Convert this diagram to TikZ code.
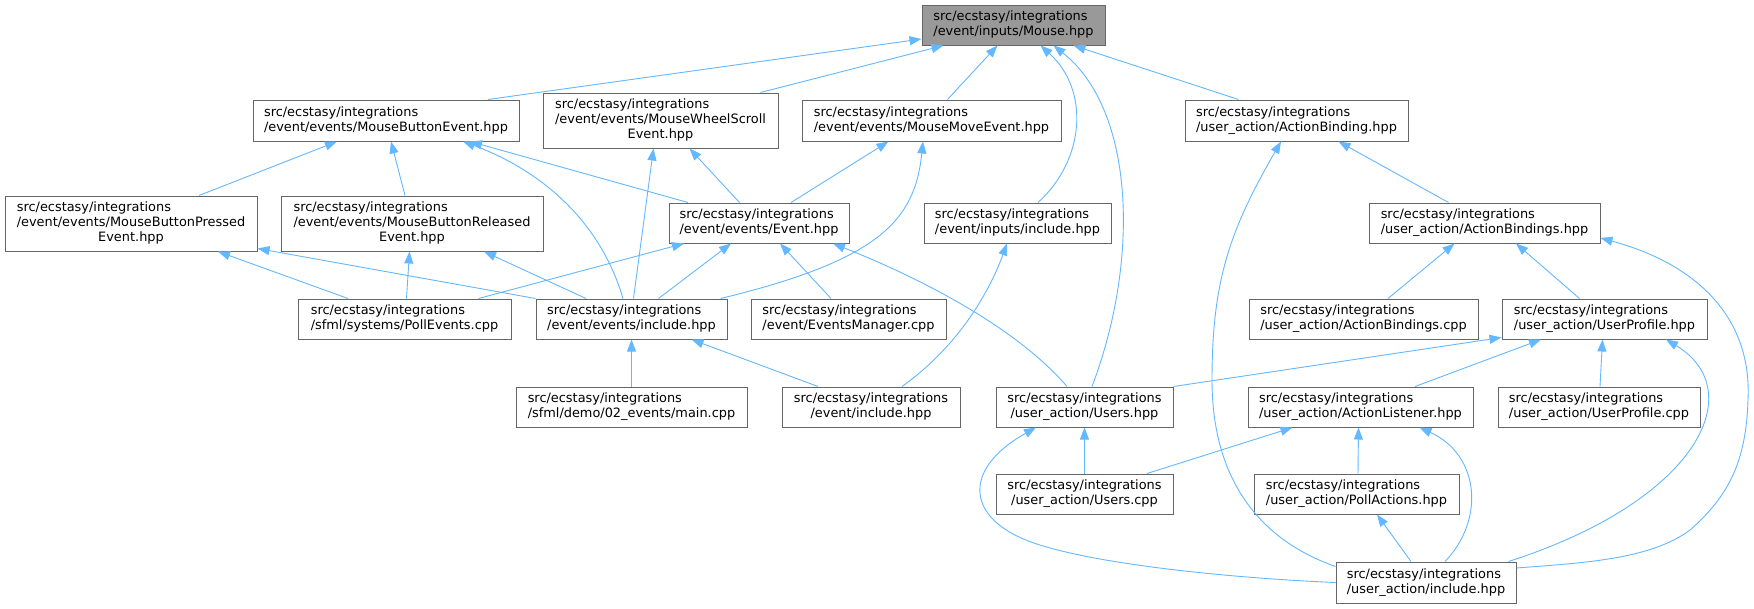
\documentclass[tikz,border=0pt]{standalone}
\usepackage{fontspec}
\setmainfont{DejaVu Sans}
\usepackage{tikz}
\usetikzlibrary{positioning,arrows.meta}

\definecolor{edgeblue}{HTML}{63B8FF}
\definecolor{boxgray}{HTML}{666666}
\definecolor{mainfill}{HTML}{999999}

% file labels: first lines flush left, last line centred
\newcommand{\twoline}[2]{\begin{tabular}{@{}l@{}}#1\\\multicolumn{1}{@{}c@{}}{#2}\end{tabular}}
\newcommand{\threeline}[3]{\begin{tabular}{@{}l@{}}#1\\#2\\\multicolumn{1}{@{}c@{}}{#3}\end{tabular}}

\begin{document}
\begin{tikzpicture}[x=1pt, y=-1pt,
    file/.style={draw=boxgray, line width=1pt, fill=white, inner sep=0pt, font=\fontsize{12.9}{15}\selectfont},
    dep/.style={draw=edgeblue, line width=0.9pt, >={Triangle[length=12pt, width=9pt]}, <-}]

    \useasboundingbox (0,0) rectangle (1754,608);
    \fill[white] (0,0) rectangle (1754,608);

    % Files, row by row
    \node[file, fill=mainfill, minimum width=183pt, minimum height=40pt] (mouse) at (1013.5,25) {\twoline{src/ecstasy/integrations}{/event/inputs/Mouse.hpp}};

    \node[file, minimum width=266pt, minimum height=41pt] (mbe) at (386,120.5) {\twoline{src/ecstasy/integrations}{/event/events/MouseButtonEvent.hpp}};
    \node[file, minimum width=235pt, minimum height=55pt] (mws) at (660.5,120.5) {\threeline{src/ecstasy/integrations}{/event/events/MouseWheelScroll}{Event.hpp}};
    \node[file, minimum width=259pt, minimum height=41pt] (mme) at (931.5,120.5) {\twoline{src/ecstasy/integrations}{/event/events/MouseMoveEvent.hpp}};
    \node[file, minimum width=223pt, minimum height=41pt] (ab) at (1296.5,120.5) {\twoline{src/ecstasy/integrations}{/user\_action/ActionBinding.hpp}};

    \node[file, minimum width=252pt, minimum height=55pt] (mbp) at (131,223.5) {\threeline{src/ecstasy/integrations}{/event/events/MouseButtonPressed}{Event.hpp}};
    \node[file, minimum width=262pt, minimum height=55pt] (mbr) at (412,223.5) {\threeline{src/ecstasy/integrations}{/event/events/MouseButtonReleased}{Event.hpp}};
    \node[file, minimum width=180pt, minimum height=40pt] (ev) at (759,223) {\twoline{src/ecstasy/integrations}{/event/events/Event.hpp}};
    \node[file, minimum width=187pt, minimum height=40pt] (ii) at (1017.5,223) {\twoline{src/ecstasy/integrations}{/event/inputs/include.hpp}};
    \node[file, minimum width=231pt, minimum height=40pt] (abs) at (1484.5,223) {\twoline{src/ecstasy/integrations}{/user\_action/ActionBindings.hpp}};

    \node[file, minimum width=213pt, minimum height=40pt] (pe) at (404.5,319) {\twoline{src/ecstasy/integrations}{/sfml/systems/PollEvents.cpp}};
    \node[file, minimum width=191pt, minimum height=40pt] (ei) at (631.5,319) {\twoline{src/ecstasy/integrations}{/event/events/include.hpp}};
    \node[file, minimum width=195pt, minimum height=40pt] (em) at (848.5,319) {\twoline{src/ecstasy/integrations}{/event/EventsManager.cpp}};
    \node[file, minimum width=229pt, minimum height=40pt] (abcpp) at (1363.5,319) {\twoline{src/ecstasy/integrations}{/user\_action/ActionBindings.cpp}};
    \node[file, minimum width=205pt, minimum height=40pt] (up) at (1604.5,319) {\twoline{src/ecstasy/integrations}{/user\_action/UserProfile.hpp}};

    \node[file, minimum width=231pt, minimum height=40pt] (demo) at (631.5,407) {\twoline{src/ecstasy/integrations}{/sfml/demo/02\_events/main.cpp}};
    \node[file, minimum width=178pt, minimum height=40pt] (evi) at (871,407) {\twoline{src/ecstasy/integrations}{/event/include.hpp}};
    \node[file, minimum width=177pt, minimum height=40pt] (uh) at (1084.5,407) {\twoline{src/ecstasy/integrations}{/user\_action/Users.hpp}};
    \node[file, minimum width=225pt, minimum height=40pt] (al) at (1360.5,407) {\twoline{src/ecstasy/integrations}{/user\_action/ActionListener.hpp}};
    \node[file, minimum width=202pt, minimum height=40pt] (upcpp) at (1599,407) {\twoline{src/ecstasy/integrations}{/user\_action/UserProfile.cpp}};

    \node[file, minimum width=177pt, minimum height=40pt] (uc) at (1084.5,494) {\twoline{src/ecstasy/integrations}{/user\_action/Users.cpp}};
    \node[file, minimum width=205pt, minimum height=40pt] (pa) at (1356.5,494) {\twoline{src/ecstasy/integrations}{/user\_action/PollActions.hpp}};

    \node[file, minimum width=180pt, minimum height=41pt] (ui) at (1426,582.5) {\twoline{src/ecstasy/integrations}{/user\_action/include.hpp}};

    % Included by Mouse.hpp
    \draw[dep] ([yshift=-14pt]mouse.west) -- ([xshift=102pt]mbe.north);
    \draw[dep] ([xshift=-70pt]mouse.south) -- ([xshift=100pt]mws.north);
    \draw[dep] ([xshift=-16pt]mouse.south) -- ([xshift=16pt]mme.north);
    \draw[dep] ([xshift=27pt]mouse.south) .. controls (1090,90) and (1085,160) .. ([xshift=20.5pt]ii.north);
    \draw[dep] ([xshift=40pt]mouse.south) .. controls (1135,110) and (1140,260) .. ([xshift=7.5pt]uh.north);
    \draw[dep] ([xshift=60pt]mouse.south) -- ([xshift=-58pt]ab.north);

    % Event headers
    \draw[dep] ([xshift=-49pt]mbe.south) -- ([xshift=68pt]mbp.north);
    \draw[dep] ([xshift=5pt]mbe.south) -- ([xshift=-7pt]mbr.north);
    \draw[dep] ([xshift=77pt]mbe.south) .. controls (540,170) and (600,220) .. ([xshift=-8.5pt]ei.north);
    \draw[dep] ([xshift=84pt]mbe.south) -- ([xshift=-71pt]ev.north);
    \draw[dep] ([xshift=-7pt]mws.south) -- ([xshift=2pt]ei.north);
    \draw[dep] ([xshift=29pt]mws.south) -- ([xshift=-19.5pt]ev.north);
    \draw[dep] ([xshift=-43pt]mme.south) -- ([xshift=32pt]ev.north);
    \draw[dep] ([xshift=-8.5pt]mme.south) .. controls (915,220) and (880,260) .. ([xshift=89pt]ei.north);
    \draw[dep] ([xshift=87pt]mbp.south) -- ([xshift=-56.5pt]pe.north);
    \draw[dep] ([yshift=3pt]mbp.south east) -- (ei.north west);
    \draw[dep] ([xshift=-2.5pt]mbr.south) -- ([xshift=2pt]pe.north);
    \draw[dep] ([xshift=72pt]mbr.south) -- ([xshift=-45.5pt]ei.north);
    \draw[dep] ([xshift=-75pt]ev.south) -- ([xshift=74pt]pe.north);
    \draw[dep] ([xshift=-28pt]ev.south) -- ([xshift=27pt]ei.north);
    \draw[dep] ([xshift=21pt]ev.south) -- ([xshift=-17.5pt]em.north);
    \draw[dep] ([xshift=74pt]ev.south) .. controls (900,270) and (1010,320) .. ([xshift=-17.5pt]uh.north);
    \draw[dep] (ei.south) -- (demo.north);
    \draw[dep] ([xshift=60pt]ei.south) -- ([xshift=-53pt]evi.north);
    \draw[dep] ([xshift=-10.5pt]ii.south) .. controls (990,290) and (960,345) .. ([xshift=31pt]evi.north);

    % User action headers
    \draw[dep] (uh.south) -- (uc.north);
    \draw[dep] ([xshift=-48.5pt]uh.south) .. controls (960,470) and (965,522) .. (1040,545) .. controls (1110,567) and (1250,579) .. (ui.west);
    \draw[dep] ([yshift=2pt]up.south west) -- (uh.north east);
    \draw[dep] ([xshift=42pt]ab.south) -- ([xshift=-36pt]abs.north);
    \draw[dep] ([xshift=-15.5pt]ab.south) .. controls (1230,230) and (1212,280) .. (1212,380) .. controls (1212,480) and (1260,540) .. ([yshift=-5pt]ui.north west);
    \draw[dep] ([xshift=-30pt]abs.south) -- ([xshift=24.5pt]abcpp.north);
    \draw[dep] ([xshift=31.5pt]abs.south) -- ([xshift=-25pt]up.north);
    \draw[dep] ([yshift=-15pt]abs.east) .. controls (1700,265) and (1752,320) .. (1748,400) .. controls (1746,460) and (1730,495) .. (1690,530) .. controls (1650,560) and (1580,563) .. ([yshift=14.5pt]ui.east);
    \draw[dep] ([xshift=-63.5pt]up.south) -- ([xshift=54.5pt]al.north);
    \draw[dep] ([xshift=-2pt]up.south) -- ([xshift=1pt]upcpp.north);
    \draw[dep] ([xshift=61.5pt]up.south) .. controls (1750,390) and (1700,500) .. ([xshift=-8pt]ui.north east);
    \draw[dep] ([xshift=-68pt]al.south) -- ([xshift=62.5pt]uc.north);
    \draw[dep] ([xshift=-2pt]al.south) -- ([xshift=1.5pt]pa.north);
    \draw[dep] ([xshift=59pt]al.south) .. controls (1480,455) and (1485,520) .. ([xshift=19pt]ui.north);
    \draw[dep] ([xshift=20.5pt]pa.south) -- ([xshift=-15pt]ui.north);

\end{tikzpicture}
\end{document}
